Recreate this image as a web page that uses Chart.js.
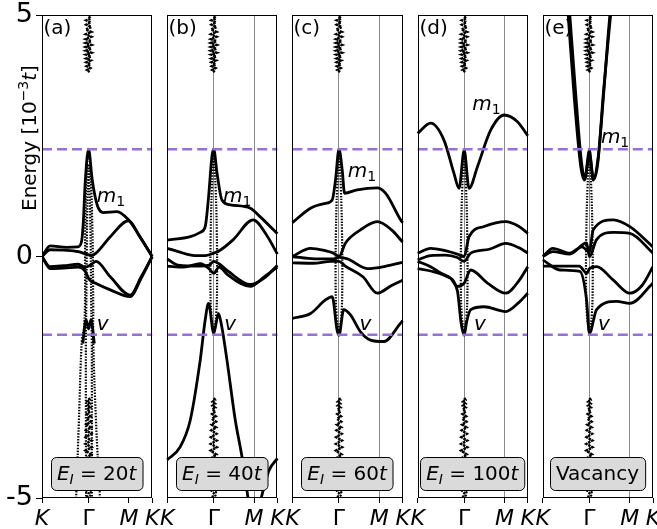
<!DOCTYPE html>
<html>
<head>
<meta charset="utf-8">
<script src="https://cdn.jsdelivr.net/npm/chart.js@4.4.0/dist/chart.umd.min.js"></script>
<style>
  html, body { margin: 0; padding: 0; background: #fff; }
  #wrap { width: 657px; height: 529px; }
</style>
</head>
<body>
<div id="wrap"><canvas id="bands" width="657" height="529"></canvas></div>
<script>
// path K - Gamma - M - K, each panel runs 0..1 along the path
const pathLabels = ['K', 'Γ', 'M', 'K'];
const pathStops = [0, 0.4226, 0.7887, 1];
const panelTags = ['(a)', '(b)', '(c)', '(d)', '(e)'];
const boxTexts = ['20', '40', '60', '100', 'Vacancy'];
const markerLevels = [2.22, -1.62];   // dashed purple lines
const yTicks = [-5, 0, 5];

// bands as [path fraction, energy] pairs
const solidA = [
  [[0,0],[0.073,0.22],[0.225,0.19],[0.327,0.2],[0.36,0.32],[0.376,0.75],[0.39,1.45],[0.4226,2.22],[0.455,1.6],[0.482,1.24],[0.512,1.0],[0.555,0.91],[0.68,0.93],[0.785,0.76],[0.89,0.41],[1,0]],
  [[0,0],[0.073,0.14],[0.2,0.13],[0.33,0.1],[0.4,0.05],[0.45,0.02],[0.49,0.07],[0.62,0.41],[0.785,0.74],[0.89,0.4],[1,0]],
  [[0,0],[0.073,-0.21],[0.2,-0.19],[0.33,-0.16],[0.39,-0.22],[0.42,-0.2],[0.455,-0.15],[0.49,-0.1],[0.62,-0.42],[0.8,-0.8],[0.9,-0.42],[1,0]],
  [[0,0],[0.073,-0.25],[0.2,-0.24],[0.33,-0.22],[0.39,-0.3],[0.43,-0.48],[0.482,-0.55],[0.62,-0.69],[0.8,-0.83],[0.9,-0.45],[1,0]],
  [[0.37,-1.8],[0.4,-1.31],[0.4226,-1.5],[0.445,-1.31],[0.475,-1.8]]
];
const dottedA = [
  [[0.4226,2.22],[0.405,1.8],[0.392,0.5],[0.39,-1.0],[0.38,-1.5],[0.361,-1.75],[0.335,-3.4],[0.309,-5.05]],
  [[0.4226,2.22],[0.44,1.8],[0.458,0.5],[0.465,-1.0],[0.465,-1.75],[0.49,-3.4],[0.527,-5.05]],
  [[0.4226,1.9],[0.41,0.8],[0.402,-1.0],[0.398,-1.75],[0.4,-5.05]],
  [[0.4226,1.9],[0.438,0.8],[0.447,-1.0],[0.452,-1.75],[0.452,-5.05]]
];

const solidB = [
  [[0,0.34],[0.21,0.41],[0.3,0.5],[0.345,0.62],[0.373,1.17],[0.406,2.07],[0.4226,2.22],[0.452,1.73],[0.497,1.17],[0.573,1.07],[0.755,1.0],[0.845,0.82],[1,0.47]],
  [[0,0.17],[0.1,0.1],[0.25,0.02],[0.35,0.02],[0.4226,0.07],[0.48,0.13],[0.6,0.35],[0.78,0.76],[0.9,0.45],[1,0.05]],
  [[0,-0.05],[0.1,-0.18],[0.3,-0.2],[0.38,-0.18],[0.4226,-0.1],[0.47,-0.15],[0.55,-0.3],[0.755,-0.58],[0.88,-0.45],[1,-0.18]],
  [[0,-0.2],[0.15,-0.22],[0.3,-0.15],[0.38,-0.25],[0.4226,-0.35],[0.47,-0.22],[0.55,-0.38],[0.755,-0.62],[0.88,-0.42],[1,-0.22]],
  [[0,-4.21],[0.118,-3.94],[0.209,-3.39],[0.3,-2.14],[0.345,-1.31],[0.375,-0.97],[0.4226,-1.59],[0.465,-1.18],[0.495,-1.45],[0.542,-2.14],[0.618,-3.39],[0.679,-4.15],[0.74,-5.1]],
  [[0.8,-5.5],[0.92,-4.45],[1,-4.18]]
];

const solidC = [
  [[0,0.7],[0.164,1.0],[0.3,1.1],[0.361,1.17],[0.391,1.58],[0.4226,2.22],[0.452,1.79],[0.473,1.31],[0.588,1.38],[0.77,1.42],[0.845,1.31],[0.982,0.76],[1,0.7]],
  [[0,0],[0.164,0.17],[0.3,0.12],[0.373,0.07],[0.4226,0.0],[0.482,0.28],[0.618,0.55],[0.77,0.72],[0.9,0.55],[1,0.3]],
  [[0,-0.13],[0.19,-0.14],[0.35,-0.1],[0.4226,-0.1],[0.48,-0.2],[0.64,-0.42],[0.77,-0.76],[0.9,-0.6],[1,-0.49]],
  [[0,0.0],[0.2,-0.05],[0.38,-0.05],[0.4226,-0.02],[0.5,-0.05],[0.68,-0.25],[0.85,-0.2],[1,-0.12]],
  [[0,-1.28],[0.164,-1.18],[0.3,-0.9],[0.361,-0.83],[0.405,-1.52],[0.4226,-1.63],[0.466,-1.1],[0.527,-1.21],[0.618,-1.56],[0.709,-1.73],[0.83,-1.76],[0.982,-1.38],[1,-1.33]]
];

const solidD = [
  [[0,2.55],[0.118,2.76],[0.239,2.41],[0.33,1.72],[0.376,1.41],[0.4226,2.2],[0.467,1.41],[0.543,1.86],[0.664,2.62],[0.785,2.93],[0.906,2.79],[1,2.5]],
  [[0,0.07],[0.118,0.17],[0.25,0.12],[0.36,0.05],[0.4226,0.0],[0.467,0.41],[0.603,0.62],[0.8,0.72],[0.92,0.62],[1,0.48]],
  [[0,-0.07],[0.118,0.02],[0.25,0.03],[0.36,-0.02],[0.4226,-0.1],[0.482,0.07],[0.65,0.15],[0.8,0.27],[0.92,0.18],[1,0.07]],
  [[0,-0.1],[0.118,-0.21],[0.209,-0.34],[0.3,-0.45],[0.361,-0.62],[0.4226,-0.55],[0.482,-0.28],[0.634,-0.55],[0.8,-0.76],[0.92,-0.5],[1,-0.21]],
  [[0,-0.25],[0.118,-0.3],[0.25,-0.4],[0.36,-0.7],[0.395,-1.38],[0.4226,-1.63],[0.445,-1.35],[0.482,-1.1],[0.603,-1.04],[0.8,-1.14],[0.92,-0.95],[1,-0.76]]
];

const solidE = [
  [[0.245,5.0],[0.291,3.59],[0.352,1.93],[0.382,1.62],[0.4226,2.2],[0.457,1.58],[0.503,2.07],[0.548,3.24],[0.594,4.62],[0.609,5.0]],
  [[0.23,5.0],[0.285,3.3],[0.345,1.85],[0.378,1.58],[0.4226,2.1],[0.462,1.6],[0.5,1.95],[0.55,3.4],[0.615,5.0]],
  [[0,0],[0.091,0.17],[0.245,0.07],[0.355,0.2],[0.4226,0.1],[0.457,0.55],[0.639,0.76],[0.79,0.62],[1,0.2]],
  [[0,0],[0.091,0.1],[0.245,0.05],[0.397,0.28],[0.4226,0.0],[0.488,0.35],[0.639,0.5],[0.79,0.48],[1,0.07]],
  [[0,-0.07],[0.155,-0.28],[0.336,-0.31],[0.397,-0.9],[0.4226,-1.59],[0.488,-1.1],[0.67,-0.93],[0.79,-0.97],[1,-0.55]],
  [[0,-0.2],[0.155,-0.2],[0.33,-0.2],[0.4,-0.35],[0.4226,-0.25],[0.488,-0.21],[0.64,-0.49],[0.79,-0.76],[0.9,-0.6],[1,-0.21]]
];

// Gamma-localised dotted lens used in panels b-e
const dottedLens = [
  [[0.4226,2.22],[0.405,1.4],[0.395,0.5],[0.392,-0.5],[0.4,-1.2],[0.4226,-1.62]],
  [[0.4226,2.22],[0.44,1.4],[0.45,0.5],[0.453,-0.5],[0.445,-1.2],[0.4226,-1.62]]
];

// impurity level stacks at Gamma: [offset from Gamma, energy]
const topColumn = [[0,4.97],[0.02,4.93],[-0.02,4.89],[0.02,4.85],[-0.02,4.8],[0.025,4.75],[-0.025,4.7],[0.025,4.65],[-0.025,4.6],[0.025,4.55],[-0.025,4.5],[0.025,4.46],[-0.025,4.42],[0.025,4.38],[-0.025,4.34],[0.025,4.3],[-0.025,4.26],[0.025,4.22],[-0.025,4.18],[0.022,4.14],[-0.022,4.1],[0.02,4.06],[-0.02,4.02],[0.018,3.98],[-0.018,3.94],[0.015,3.9],[-0.015,3.86],[0.01,3.82]];
const bottomColumn = [[0,-2.93],[0.012,-2.97],[-0.012,-3.01],[0.012,-3.05],[-0.012,-3.09],[0.014,-3.13],[-0.014,-3.17],[0.015,-3.21],[-0.015,-3.26],[0.018,-3.31],[-0.018,-3.36],[0.02,-3.42],[-0.02,-3.48],[0.022,-3.54],[-0.022,-3.6],[0.025,-3.67],[-0.025,-3.74],[0.027,-3.81],[-0.027,-3.88],[0.028,-3.95],[-0.028,-4.02],[0.025,-4.1],[-0.025,-4.18],[0.02,-4.26],[-0.015,-4.33]];
const bottomSpecks = [[-0.02,-4.85],[0.0,-4.9],[0.02,-4.88],[-0.01,-4.97],[0.015,-4.95]];

const panels = [
  {solid: solidA, dotted: dottedA},
  {solid: solidB, dotted: dottedLens},
  {solid: solidC, dotted: dottedLens},
  {solid: solidD, dotted: dottedLens},
  {solid: solidE, dotted: dottedLens}
];

// label spots [path fraction, energy]
const m1Spots = [[0.497,1.13],[0.506,1.13],[0.503,1.65],[0.497,3.03],[0.527,2.34]];
const vSpots = [[0.497,-1.52],[0.518,-1.52],[0.61,-1.52],[0.512,-1.52],[0.5,-1.52]];

const S = 125 / 110;   // panel pitch, panel width is 1
const GAMMA = pathStops[1];
const FONT = 'DejaVu Sans';
Chart.defaults.font.family = FONT;

const pts = (arr, i, dx = 0) => arr.map(([f, e]) => ({x: i * S + f + dx, y: e}));

const datasets = [];
panels.forEach((p, i) => {
  markerLevels.forEach(lv => datasets.push({
    data: [{x: i * S, y: lv}, {x: i * S + 1, y: lv}],
    showLine: true, borderColor: '#9370DB', borderWidth: 2.5, borderDash: [10, 5],
    pointRadius: 0, order: 0
  }));
  p.dotted.forEach(b => datasets.push({
    data: pts(b, i), showLine: true, borderColor: '#000', borderWidth: 2.2,
    borderDash: [1.5, 1.4], tension: 0.4, pointRadius: 0, order: 1
  }));
  [topColumn, bottomColumn].forEach(c => datasets.push({
    data: pts(c, i, GAMMA), showLine: true, borderColor: '#000', borderWidth: 2.5,
    borderDash: [2.5, 0.8], pointRadius: 0, order: 1
  }));
  datasets.push({
    data: pts(bottomSpecks, i, GAMMA), showLine: false, pointRadius: 1.2,
    backgroundColor: '#000', borderWidth: 0, order: 1
  });
  p.solid.forEach(b => datasets.push({
    data: pts(b, i), showLine: true, borderColor: '#000', borderWidth: 2.8,
    cubicInterpolationMode: 'monotone', pointRadius: 0, order: 2
  }));
});

const tickValues = [];
panelTags.forEach((t, i) => pathStops.forEach(s => tickValues.push(i * S + s)));

function drawRuns(ctx, runs, x, y, align) {
  let w = 0;
  runs.forEach(r => { ctx.font = r.font; r.w = ctx.measureText(r.text).width; w += r.w; });
  let cx = align === 'center' ? x - w / 2 : x;
  ctx.textAlign = 'left';
  ctx.textBaseline = 'alphabetic';
  runs.forEach(r => { ctx.font = r.font; ctx.fillText(r.text, cx, y + (r.dy || 0)); cx += r.w; });
  return w;
}

const panelDecor = {
  id: 'panelDecor',
  afterDatasetsDraw(chart) {
    const {ctx, chartArea: {top, bottom}, scales: {x, y}} = chart;
    ctx.save();
    ctx.fillStyle = '#000';
    panelTags.forEach((tag, i) => {
      const l = Math.round(x.getPixelForValue(i * S)) + 0.5;
      const r = Math.round(x.getPixelForValue(i * S + 1)) - 0.5;
      ctx.strokeStyle = '#000';
      ctx.lineWidth = 1;
      ctx.strokeRect(l, Math.round(top) + 0.5, r - l, Math.round(bottom) - Math.round(top) - 1);

      ctx.fillStyle = '#000';
      drawRuns(ctx, [{text: tag, font: `20px ${FONT}`}], l + 1, top + 19, 'left');

      const [mf, me] = m1Spots[i];
      drawRuns(ctx, [
        {text: 'm', font: `italic 20px ${FONT}`},
        {text: '1', font: `14px ${FONT}`, dy: 4}
      ], x.getPixelForValue(i * S + mf), y.getPixelForValue(me), 'left');
      const [vf, ve] = vSpots[i];
      drawRuns(ctx, [{text: 'v', font: `italic 20px ${FONT}`}],
        x.getPixelForValue(i * S + vf), y.getPixelForValue(ve), 'left');

      // label box
      const bt = boxTexts[i];
      const runs = isNaN(Number(bt)) ? [{text: bt, font: `20px ${FONT}`}] : [
        {text: 'E', font: `italic 20px ${FONT}`},
        {text: 'I', font: `italic 14px ${FONT}`, dy: 4},
        {text: ' = ' + bt, font: `20px ${FONT}`},
        {text: 't', font: `italic 20px ${FONT}`}
      ];
      let w = 0;
      runs.forEach(rn => { ctx.font = rn.font; w += ctx.measureText(rn.text).width; });
      const cx = x.getPixelForValue(i * S + 0.496);
      const cy = y.getPixelForValue(-4.49);
      const bw = w + 12, bh = 33, rad = 5;
      const bx = Math.round(cx - bw / 2) + 0.5, by = Math.round(cy - bh / 2) + 0.5;
      ctx.beginPath();
      ctx.moveTo(bx + rad, by);
      ctx.arcTo(bx + bw, by, bx + bw, by + bh, rad);
      ctx.arcTo(bx + bw, by + bh, bx, by + bh, rad);
      ctx.arcTo(bx, by + bh, bx, by, rad);
      ctx.arcTo(bx, by, bx + bw, by, rad);
      ctx.closePath();
      ctx.fillStyle = '#dadada';
      ctx.fill();
      ctx.strokeStyle = '#000';
      ctx.stroke();
      ctx.fillStyle = '#000';
      drawRuns(ctx, runs, cx, cy + 7, 'center');
    });

    // y title
    ctx.translate(36, 211);
    ctx.rotate(-Math.PI / 2);
    drawRuns(ctx, [
      {text: 'Energy [10', font: `20px ${FONT}`},
      {text: '\u22123', font: `14px ${FONT}`, dy: -8},
      {text: 't', font: `italic 20px ${FONT}`},
      {text: ']', font: `20px ${FONT}`}
    ], 0, 0, 'left');
    ctx.restore();
  }
};

new Chart(document.getElementById('bands'), {
  type: 'scatter',
  data: {datasets},
  options: {
    responsive: false,
    animation: false,
    devicePixelRatio: 1,
    layout: {padding: {top: 15, right: 4, left: 0, bottom: 0}},
    plugins: {legend: {display: false}, tooltip: {enabled: false}},
    scales: {
      x: {
        type: 'linear', min: 0, max: 4 * S + 1,
        afterBuildTicks: sc => { sc.ticks = tickValues.map(v => ({value: v})); },
        afterFit: sc => { sc.height = 31; sc.paddingLeft = 0; sc.paddingRight = 0; },
        ticks: {
          autoSkip: false, maxRotation: 0, minRotation: 0, padding: 3, color: '#000',
          callback: (v, idx) => pathLabels[idx % 4],
          font: ctx => ({family: FONT, size: 22, style: ctx.index % 4 === 1 ? 'normal' : 'italic'})
        },
        grid: {
          color: ctx => (ctx.index >= 4 && (ctx.index % 4 === 1 || ctx.index % 4 === 2)) ? '#8a8a8a' : 'rgba(0,0,0,0)',
          tickColor: '#000', tickLength: 5, lineWidth: 1
        },
        border: {display: false}
      },
      y: {
        min: -5, max: 5,
        afterBuildTicks: sc => { sc.ticks = yTicks.map(v => ({value: v})); },
        afterFit: sc => { sc.width = 42; sc.paddingTop = 0; sc.paddingBottom = 0; },
        ticks: {font: {family: FONT, size: 27}, color: '#000', padding: 3, callback: v => String(v)},
        grid: {drawOnChartArea: false, tickLength: 6, color: '#000', tickColor: '#000'},
        border: {display: false}
      }
    }
  },
  plugins: [panelDecor]
});
</script>
</body>
</html>
